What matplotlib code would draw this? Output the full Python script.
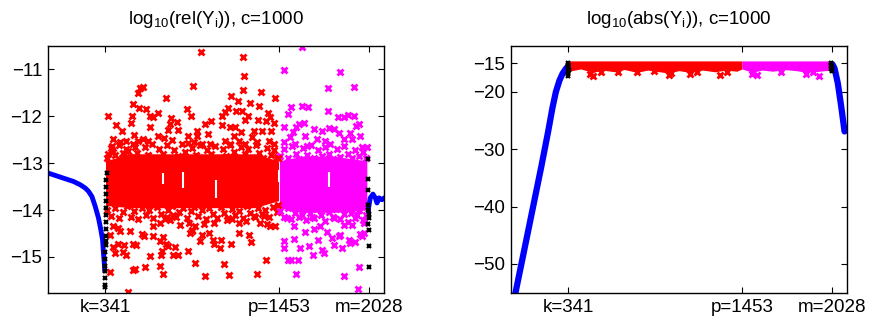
import numpy as np
import matplotlib
matplotlib.use("Agg")
import matplotlib.pyplot as plt

plt.rcParams['font.family'] = ['Liberation Sans', 'DejaVu Sans']
plt.rcParams['mathtext.default'] = 'regular'

# marked indices
k_idx, p_idx, m_idx = 341, 1453, 2028
xtick_labels = ['k=341', 'p=1453', 'm=2028']

# ---------- left panel: log10(rel(Y_i)) ----------
rel_blue_left = [(-25, -13.21), (74, -13.32), (138, -13.39), (181, -13.46), (213, -13.53),
                 (234, -13.60), (256, -13.71), (277, -13.92), (298, -14.17), (313, -14.42),
                 (324, -14.63), (330, -14.92), (335, -15.13), (338, -15.30)]
rel_blue_right = [(2026, -14.04), (2026, -13.96), (2037, -13.74), (2054, -13.66), (2069, -13.74),
                  (2080, -13.85), (2093, -13.74), (2112, -13.78), (2127, -13.74)]

rel_black = [(350, -13.2), (349, -13.35), (348, -13.5), (347, -13.65), (346, -13.8), (346, -13.95),
             (345, -14.1), (345, -14.25), (344, -14.4), (344, -14.55), (343, -14.65), (343, -14.75),
             (342, -14.9), (342, -15.05), (342, -15.2), (341, -15.3), (341, -15.45), (341, -15.6),
             (341, -15.65),
             (2020, -12.92), (2020, -13.33), (2020, -13.57), (2024, -13.9), (2024, -14.0),
             (2026, -14.09), (2026, -14.17), (2020, -14.30), (2030, -14.43), (2026, -14.77),
             (2026, -15.22)]

# dense core of the red / magenta clouds (envelopes)
core_red_x = [343, 500, 700, 900, 1100, 1300, 1450]
core_red_top = [-12.95, -12.8, -12.8, -12.8, -12.8, -12.8, -12.95]
core_red_bot = [-13.9, -13.95, -13.95, -13.95, -13.95, -13.95, -13.8]
core_mag_x = [1456, 1600, 1800, 2015]
core_mag_top = [-12.95, -12.85, -12.85, -12.95]
core_mag_bot = [-13.95, -14.05, -14.05, -14.0]
# empty vertical strips inside the clouds: (i, low, high)
core_gaps = [(836, -13.53, -13.18), (1052, -13.74, -13.35), (1453, -13.40, -13.15),
             (1771, -13.50, -13.18), (714, -13.45, -13.22)]

# ragged edges of the dense core
rel_red_edge = [(352, -12.9), (378, -12.68), (405, -12.82), (431, -12.62), (447, -12.9), (472, -12.7),
                (498, -12.86), (521, -12.6), (545, -12.78), (571, -12.92), (594, -12.66), (618, -12.83),
                (640, -12.6), (662, -12.88), (688, -12.7), (712, -12.8), (735, -12.62), (760, -12.9),
                (783, -12.72), (808, -12.84), (830, -12.6), (853, -12.76), (877, -12.9), (899, -12.68),
                (925, -12.82), (948, -12.62), (972, -12.88), (995, -12.72), (1020, -12.8), (1044, -12.64),
                (1067, -12.9), (1092, -12.7), (1115, -12.84), (1138, -12.62), (1162, -12.76),
                (1186, -12.9), (1210, -12.66), (1233, -12.8), (1257, -12.7), (1281, -12.88),
                (1305, -12.62), (1328, -12.78), (1352, -12.9), (1376, -12.68), (1400, -12.82),
                (1422, -12.72), (1443, -12.86),
                (350, -14.0), (376, -14.12), (401, -13.95), (428, -14.18), (452, -14.05), (479, -13.92),
                (503, -14.15), (527, -14.02), (553, -14.2), (577, -13.96), (601, -14.1), (624, -14.0),
                (649, -14.16), (673, -13.94), (697, -14.08), (722, -14.2), (745, -14.0), (769, -13.92),
                (792, -14.14), (816, -14.04), (840, -13.96), (864, -14.18), (888, -14.02), (911, -13.94),
                (935, -14.12), (958, -14.0), (983, -14.2), (1007, -13.96), (1031, -14.08), (1055, -14.16),
                (1079, -13.94), (1103, -14.06), (1126, -14.18), (1150, -13.98), (1174, -14.1),
                (1198, -14.02), (1222, -14.16), (1246, -13.92), (1270, -14.06), (1294, -14.12),
                (1318, -13.96), (1342, -14.08), (1366, -14.0), (1390, -14.14), (1414, -13.94),
                (1438, -14.04)]
rel_mag_edge = [(1462, -12.85), (1488, -12.7), (1512, -12.88), (1535, -12.64), (1560, -12.8),
                (1584, -12.92), (1607, -12.68), (1631, -12.82), (1655, -12.62), (1679, -12.9),
                (1703, -12.72), (1727, -12.84), (1750, -12.66), (1774, -12.8), (1798, -12.92),
                (1822, -12.7), (1846, -12.86), (1870, -12.64), (1893, -12.8), (1917, -12.9),
                (1941, -12.72), (1965, -12.84), (1989, -12.76), (2010, -12.9),
                (1460, -14.02), (1484, -14.15), (1508, -13.96), (1532, -14.2), (1556, -14.06),
                (1580, -14.14), (1604, -13.98), (1628, -14.22), (1652, -14.06), (1676, -14.16),
                (1700, -13.96), (1724, -14.1), (1748, -14.24), (1772, -14.04), (1796, -14.14),
                (1820, -13.98), (1844, -14.2), (1868, -14.08), (1892, -14.26), (1916, -14.06),
                (1940, -14.18), (1964, -14.0), (1988, -14.22), (2010, -14.1)]

rel_red = [(548, -11.51), (565, -11.40), (582, -11.38), (518, -11.74), (362, -12.0), (411, -12.19),
           (448, -12.32), (505, -12.15), (512, -11.99), (557, -11.83), (603, -11.85), (727, -11.62),
           (629, -11.99), (650, -12.02), (676, -11.94), (765, -12.04), (803, -12.13), (757, -12.16),
           (744, -12.29), (806, -12.29), (904, -11.35), (864, -11.85), (891, -11.99), (629, -12.23),
           (526, -12.40), (394, -12.48), (475, -12.52), (437, -12.55), (552, -12.52), (580, -12.48),
           (614, -12.52), (682, -12.43), (720, -12.47), (771, -12.50), (868, -12.41), (868, -12.56),
           (384, -12.63), (362, -12.80), (394, -12.77), (458, -12.79), (490, -12.73), (533, -12.66),
           (955, -10.62), (1220, -10.73), (1231, -11.13), (1224, -11.43), (1145, -11.57),
           (1192, -11.67), (1335, -11.48), (1427, -11.60), (1269, -11.71), (1327, -11.77),
           (1124, -11.83), (1107, -11.91), (1090, -11.99), (1177, -11.89), (1216, -11.89),
           (1256, -11.99), (1233, -12.07), (1384, -11.92), (1397, -12.01), (1318, -12.08),
           (1367, -12.10), (1424, -12.15), (981, -12.16), (1017, -12.09), (1088, -12.19),
           (1141, -12.22), (1173, -12.22), (928, -12.32), (996, -12.38), (1209, -12.34),
           (1290, -12.31), (1344, -12.32), (1405, -12.32), (1162, -12.41), (1280, -12.45),
           (928, -12.41), (911, -12.55), (960, -12.59), (1013, -12.59), (1109, -12.52),
           (1141, -12.59), (1200, -12.52), (1237, -12.59), (1312, -12.55), (1386, -12.52),
           (1423, -12.59),
           (490, -15.75), (373, -15.33), (516, -15.28), (529, -15.26), (597, -15.22), (693, -15.19),
           (710, -15.36), (629, -14.99), (699, -14.97), (706, -14.88), (774, -14.97), (806, -14.97),
           (868, -14.87), (405, -14.92), (454, -14.89), (475, -14.95), (390, -14.78), (426, -14.72),
           (463, -14.74), (516, -14.72), (539, -14.74), (689, -14.67), (731, -14.72), (746, -14.77),
           (789, -14.78), (576, -14.51), (591, -14.56), (646, -14.55), (714, -14.57), (881, -14.49),
           (896, -14.42), (369, -14.53), (497, -14.44), (394, -14.35), (426, -14.38), (437, -14.45),
           (736, -14.14), (757, -14.21), (778, -14.10), (821, -14.31), (650, -14.35), (693, -14.28),
           (874, -14.28),
           (981, -15.41), (1130, -15.38), (1312, -15.36), (915, -15.13), (1102, -15.16),
           (1367, -15.07), (945, -14.67), (1034, -14.72), (1077, -14.80), (1143, -14.72),
           (1275, -14.68), (1262, -14.54), (960, -14.54), (1002, -14.49), (1030, -14.63),
           (1200, -14.50), (1081, -14.63), (896, -14.44), (917, -14.33), (970, -14.30),
           (1039, -14.28), (1120, -14.21), (1152, -14.19), (1194, -14.28), (1243, -14.24),
           (1301, -14.15), (1333, -14.28), (1354, -14.12), (1397, -14.33), (1429, -14.33),
           (1376, -14.30), (1448, -12.9), (1448, -13.9)]

rel_mag = [(1602, -10.52), (1482, -11.02), (1845, -11.05), (1766, -11.40), (1934, -11.37),
           (1527, -11.81), (1597, -11.78), (1636, -11.80), (1508, -11.95), (1766, -11.88),
           (1830, -12.02), (1870, -12.02), (1896, -11.97), (1930, -11.99), (1964, -12.16),
           (1943, -12.21), (1482, -12.23), (1562, -12.22), (1610, -12.14), (1578, -12.16),
           (1674, -12.27), (1730, -12.32), (1770, -12.25), (1802, -12.28), (1837, -12.36),
           (1909, -12.36), (1969, -12.42), (1542, -12.34), (1521, -12.45), (1621, -12.41),
           (1696, -12.48), (1749, -12.52), (1866, -12.48), (1920, -12.48), (1482, -12.55),
           (1557, -12.59), (1632, -12.63), (1781, -12.59), (1984, -12.65), (2016, -12.65),
           (1958, -15.68), (1866, -15.41), (1563, -15.36), (1967, -15.21), (1508, -15.07),
           (1530, -15.07), (1572, -15.07), (1668, -14.95), (1738, -14.92), (1856, -14.82),
           (1909, -14.70), (1941, -14.68), (1984, -14.56), (1973, -14.51), (1994, -14.49),
           (1487, -14.67), (1487, -14.81), (1546, -14.61), (1585, -14.80), (1642, -14.76),
           (1700, -14.63), (1728, -14.85), (1792, -14.60), (1802, -14.74), (1845, -14.53),
           (1898, -14.63), (1546, -14.35), (1621, -14.46), (1674, -14.40), (1717, -14.33),
           (1760, -14.46), (1834, -14.55), (1866, -14.31), (1920, -14.31), (1994, -14.28),
           (1504, -14.17), (1600, -14.10), (1664, -14.14), (1802, -14.17), (1952, -14.10)]

# ---------- right panel: log10(abs(Y_i)) ----------
abs_blue_left = [(0, -55.5), (85, -44.2), (169, -33.0), (212, -27.0), (240, -22.8), (262, -20.0),
                 (285, -18.0), (305, -16.8), (325, -16.0), (338, -15.6)]
abs_blue_right = [(2032, -15.2), (2045, -15.9), (2066, -18.5), (2088, -22.6), (2109, -26.9)]
abs_black = [(341, -14.9), (342, -15.3), (341, -15.7), (343, -16.1), (341, -16.5), (342, -16.9),
             (341, -17.3), (2020, -15.0), (2024, -15.3), (2028, -15.6), (2022, -16.0), (2026, -16.4)]

band_red_x = [345, 420, 500, 560, 640, 700, 780, 850, 900, 980, 1050, 1120, 1200, 1280, 1350, 1420, 1453]
band_red_top = [-14.6] * len(band_red_x)
band_red_bot = [-16.4, -16.0, -16.6, -16.2, -16.5, -16.1, -16.6, -16.2, -16.4, -16.7, -16.3, -16.6,
                -16.2, -16.5, -16.2, -16.4, -16.0]
band_mag_x = [1453, 1520, 1580, 1650, 1720, 1800, 1870, 1950, 2020]
band_mag_top = [-14.6] * len(band_mag_x)
band_mag_bot = [-16.0, -16.6, -16.2, -16.4, -16.1, -16.3, -16.6, -16.4, -16.2]

abs_red = [(498, -17.2), (551, -16.5), (657, -16.5), (784, -16.5), (889, -16.3), (985, -17.0),
           (1122, -16.9), (1165, -16.5), (1313, -17.0), (1356, -16.5), (480, -16.8), (1000, -16.7)]
abs_mag = [(1514, -16.9), (1546, -17.0), (1864, -16.9), (1948, -17.2), (1906, -16.5), (1700, -16.6)]

RED, MAG, BLUE = '#ff0000', '#ff00ff', '#0000ff'
mk = dict(marker='x', linestyle='none', markersize=4.3, mew=2.0)


def xy(pts):
    a = np.array(pts, dtype=float)
    return a[:, 0], a[:, 1]


def style(ax, title, ylim, yticks):
    ax.set_xlim(-25, 2125)
    ax.set_ylim(*ylim)
    ax.set_yticks(yticks)
    ax.set_xticks([k_idx, p_idx, m_idx])
    ax.set_xticklabels(xtick_labels)
    ax.tick_params(direction='in', top=True, right=True, length=4, width=0.8,
                   labelsize=13.5, pad=4)
    for s in ax.spines.values():
        s.set_linewidth(1.0)
    ax.set_title(title, fontsize=13.5, pad=16)


fig = plt.figure(figsize=(8.71, 3.23), dpi=100)
ax1 = fig.add_axes([0.0551, 0.0929, 0.3858, 0.7647])
ax2 = fig.add_axes([0.5867, 0.0929, 0.3858, 0.7647])

# left
ax1.fill_between(core_red_x, core_red_bot, core_red_top, color=RED, lw=0)
ax1.fill_between(core_mag_x, core_mag_bot, core_mag_top, color=MAG, lw=0)
ax1.plot(*xy(rel_red_edge), color=RED, **mk)
ax1.plot(*xy(rel_mag_edge), color=MAG, **mk)
gx, glo, ghi = np.array(core_gaps).T
ax1.vlines(gx, glo, ghi, colors='white', lw=1.5)
ax1.plot(*xy(rel_red), color=RED, **mk)
ax1.plot(*xy(rel_mag), color=MAG, **mk)
ax1.plot(*xy(rel_blue_left), color=BLUE, lw=3.5, solid_capstyle='round')
ax1.plot(*xy(rel_blue_right), color=BLUE, lw=3.5, solid_capstyle='round')
ax1.plot(*xy(rel_black), color='k', marker='x', linestyle='none', markersize=3.2, mew=1.6)
style(ax1, 'log$_{10}$(rel(Y$_i$)), c=1000', (-15.77, -10.5), [-15, -14, -13, -12, -11])

# right
ax2.fill_between(band_red_x, band_red_bot, band_red_top, color=RED, lw=0)
ax2.fill_between(band_mag_x, band_mag_bot, band_mag_top, color=MAG, lw=0)
ax2.plot(*xy(abs_red), color=RED, **mk)
ax2.plot(*xy(abs_mag), color=MAG, **mk)
ax2.plot(*xy(abs_blue_left), color=BLUE, lw=4.5, solid_capstyle='round')
ax2.plot(*xy(abs_blue_right), color=BLUE, lw=4.5, solid_capstyle='round')
ax2.plot(*xy(abs_black), color='k', marker='x', linestyle='none', markersize=3.5, mew=1.6)
style(ax2, 'log$_{10}$(abs(Y$_i$)), c=1000', (-55.06, -12.0), [-50, -40, -30, -20, -15])

fig.savefig('out.png', dpi=100)
